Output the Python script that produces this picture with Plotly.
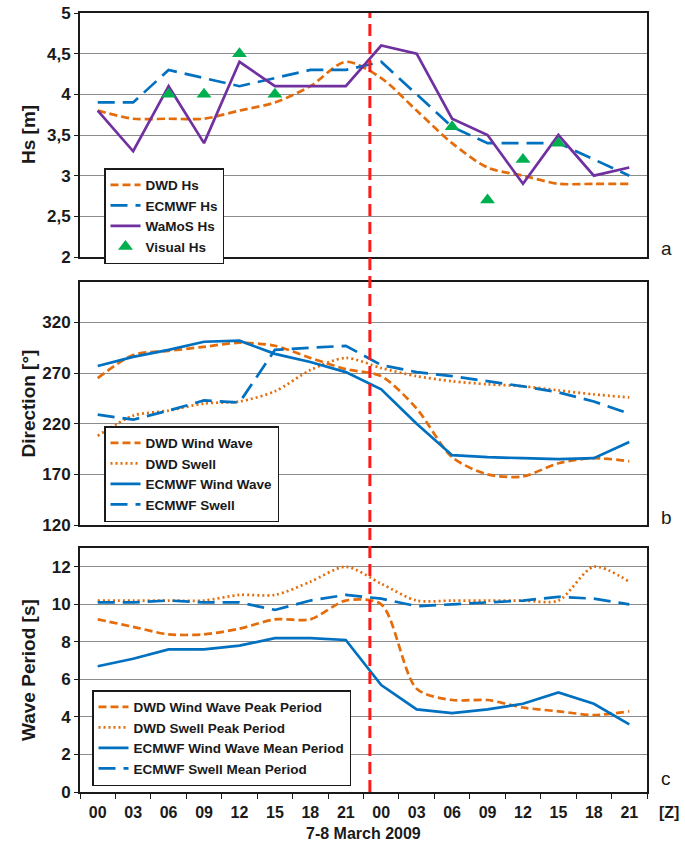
import plotly.graph_objects as go

# ---------------- data ----------------
hours = ["00", "03", "06", "09", "12", "15", "18", "21",
         "00", "03", "06", "09", "12", "15", "18", "21"]
xi = list(range(len(hours)))
event_index = 7.68  # time of event marker (~23Z, 7 March)

# Panel a: significant wave height [m]
dwd_hs = [3.8, 3.7, 3.7, 3.7, 3.8, 3.9, 4.1, 4.4, 4.2, 3.8, 3.4, 3.1, 3.0, 2.9, 2.9, 2.9]
ecmwf_hs = [3.9, 3.9, 4.3, 4.2, 4.1, 4.2, 4.3, 4.3, 4.4, 4.0, 3.6, 3.4, 3.4, 3.4, 3.2, 3.0]
wamos_hs = [3.8, 3.3, 4.1, 3.4, 4.4, 4.1, 4.1, 4.1, 4.6, 4.5, 3.7, 3.5, 2.9, 3.5, 3.0, 3.1]
visual_idx = [2, 3, 4, 5, 10, 11, 12, 13]
visual_hs = [4.0, 4.0, 4.5, 4.0, 3.6, 2.7, 3.2, 3.4]

# Panel b: direction [deg]
dwd_wind_dir = [265, 288, 292, 296, 300, 297, 285, 274, 267, 235, 187, 170, 168, 181, 186, 183]
dwd_swell_dir = [208, 228, 233, 240, 242, 252, 273, 285, 275, 267, 262, 259, 257, 253, 249, 246]
ecmwf_wind_dir = [277, 286, 293, 301, 302, 289, 281, 271, 254, 220, 189, 187, 186, 185, 186, 202]
ecmwf_swell_dir = [229, 224, 233, 243, 241, 293, 295, 297, 278, 271, 267, 262, 257, 251, 242, 230]

# Panel c: wave period [s]
dwd_wind_per = [9.2, 8.8, 8.4, 8.4, 8.7, 9.2, 9.2, 10.2, 10.0, 5.5, 4.9, 4.9, 4.5, 4.3, 4.1, 4.3]
dwd_swell_per = [10.2, 10.2, 10.2, 10.2, 10.5, 10.5, 11.2, 12.0, 11.1, 10.2, 10.2, 10.2, 10.2, 10.2, 12.0, 11.2]
ecmwf_wind_per = [6.7, 7.1, 7.6, 7.6, 7.8, 8.2, 8.2, 8.1, 5.7, 4.4, 4.2, 4.4, 4.7, 5.3, 4.7, 3.6]
ecmwf_swell_per = [10.1, 10.1, 10.2, 10.1, 10.1, 9.7, 10.2, 10.5, 10.3, 9.9, 10.0, 10.1, 10.2, 10.4, 10.3, 10.0]

hs_ticks = [2, 2.5, 3, 3.5, 4, 4.5, 5]
hs_ticktext = ["2", "2,5", "3", "3,5", "4", "4,5", "5"]
dir_ticks = [120, 170, 220, 270, 320]
per_ticks = [0, 2, 4, 6, 8, 10, 12]

# ---------------- style ----------------
ORANGE = "#E46C0A"
BLUE = "#0070C0"
PURPLE = "#7030A0"
GREEN = "#00B050"
FONT = "Liberation Sans, Arial, sans-serif"
INK = "#1a1a1a"
W = 2.7
DASH_MED = "8px,4px"
DASH_LONG = "17px,8px"
DASH_DOT = "2px,3px"

fig = go.Figure()

def line(y, name, color, dash, xa, ya, leg, spline=False):
    fig.add_trace(go.Scatter(
        x=xi, y=y, name=name, mode="lines",
        line=dict(color=color, width=W, dash=dash,
                  shape="spline" if spline else "linear", smoothing=0.8),
        xaxis=xa, yaxis=ya, legend=leg, hoverinfo="skip"))

# panel a
line(dwd_hs, "DWD Hs", ORANGE, DASH_MED, "x", "y", "legend", True)
line(ecmwf_hs, "ECMWF Hs", BLUE, DASH_LONG, "x", "y", "legend")
line(wamos_hs, "WaMoS Hs", PURPLE, "solid", "x", "y", "legend")
fig.add_trace(go.Scatter(
    x=visual_idx, y=visual_hs, name="Visual Hs", mode="markers",
    marker=dict(symbol="triangle-up", size=13, color=GREEN),
    xaxis="x", yaxis="y", legend="legend", hoverinfo="skip"))

# panel b
line(dwd_wind_dir, "DWD Wind Wave", ORANGE, DASH_MED, "x2", "y2", "legend2", True)
line(dwd_swell_dir, "DWD Swell", ORANGE, DASH_DOT, "x2", "y2", "legend2", True)
line(ecmwf_wind_dir, "ECMWF Wind Wave", BLUE, "solid", "x2", "y2", "legend2")
line(ecmwf_swell_dir, "ECMWF Swell", BLUE, DASH_LONG, "x2", "y2", "legend2")

# panel c
line(dwd_wind_per, "DWD Wind Wave Peak Period", ORANGE, DASH_MED, "x3", "y3", "legend3", True)
line(dwd_swell_per, "DWD Swell Peak Period", ORANGE, DASH_DOT, "x3", "y3", "legend3", True)
line(ecmwf_wind_per, "ECMWF Wind Wave Mean Period", BLUE, "solid", "x3", "y3", "legend3")
line(ecmwf_swell_per, "ECMWF Swell Mean Period", BLUE, DASH_LONG, "x3", "y3", "legend3")

# ---------------- layout ----------------
L, R, T, B = 80, 38, 13, 52
H, Wd = 844, 685
ph = H - T - B

def py(px):
    return (H - B - px) / ph

dom_a = [py(257), 1.0]
dom_b = [py(525), py(282)]
dom_c = [0.0, py(548)]

xcommon = dict(range=[-0.5, 15.5], showgrid=False, zeroline=False, automargin=False,
               showline=True, mirror=True, linecolor=INK, linewidth=2)
ycommon = dict(showgrid=True, gridcolor="#8c8c8c", gridwidth=1, zeroline=False,
               automargin=False,
               showline=True, mirror=True, linecolor=INK, linewidth=2,
               ticks="outside", ticklen=4, tickcolor=INK,
               tickfont=dict(family=FONT, size=17, color=INK, weight="bold"))

boundaries = [i - 0.5 for i in range(len(hours) + 1)]

fig.update_layout(
    width=Wd, height=H,
    margin=dict(l=L, r=R, t=T, b=B),
    paper_bgcolor="white", plot_bgcolor="white",
    font=dict(family=FONT, color=INK),
    xaxis=dict(**xcommon, domain=[0, 1], anchor="y", showticklabels=False),
    xaxis2=dict(**xcommon, domain=[0, 1], anchor="y2", showticklabels=False),
    xaxis3=dict(**xcommon, domain=[0, 1], anchor="y3",
                tickmode="array", tickvals=xi, ticktext=hours, ticks="",
                ticklabelstandoff=5,
                tickfont=dict(family=FONT, size=16, color=INK, weight="bold"),
                minor=dict(tickmode="array", tickvals=boundaries, ticks="outside",
                           ticklen=5, tickcolor=INK, showgrid=False)),
    yaxis=dict(**ycommon, domain=dom_a, anchor="x", range=[2, 5],
               tickmode="array", tickvals=hs_ticks, ticktext=hs_ticktext),
    yaxis2=dict(**ycommon, domain=dom_b, anchor="x2", range=[120, 360],
                tickmode="array", tickvals=dir_ticks),
    yaxis3=dict(**ycommon, domain=dom_c, anchor="x3", range=[0, 13],
                tickmode="array", tickvals=per_ticks),
    showlegend=True,
)

def px2x(px):
    return (px - L) / (Wd - L - R)

legcommon = dict(bgcolor="white", bordercolor=INK, borderwidth=1.5,
                 xanchor="left", yanchor="middle", tracegroupgap=0,
                 font=dict(family=FONT, size=13.5, color=INK, weight="bold"))
fig.update_layout(
    legend=dict(**legcommon, x=px2x(104), y=py(216)),
    legend2=dict(**legcommon, x=px2x(104), y=py(474)),
    legend3=dict(**legcommon, x=px2x(92), y=py(738)),
)

# event marker (vertical red dashed line through all panels)
fig.add_shape(type="line", xref="x3", yref="paper", x0=event_index, x1=event_index,
              y0=0, y1=1, line=dict(color="#FF1A1A", width=3, dash="12px,6px"), layer="above")

ann_font = dict(family=FONT, size=19, color=INK, weight="bold")
for txt, dom in [("Hs [m]", dom_a), ("Direction [°]", dom_b), ("Wave Period [s]", dom_c)]:
    fig.add_annotation(text=txt, xref="paper", yref="paper", x=px2x(28),
                       y=(dom[0] + dom[1]) / 2, textangle=-90, showarrow=False,
                       xanchor="center", yanchor="middle", font=ann_font)

for txt, ypx in [("a", 248), ("b", 517), ("c", 778)]:
    fig.add_annotation(text=txt, xref="paper", yref="paper", x=px2x(666), y=py(ypx),
                       showarrow=False, xanchor="center", yanchor="middle",
                       font=dict(family=FONT, size=19, color=INK))

fig.add_annotation(text="[Z]", xref="paper", yref="paper", x=px2x(669), y=py(812),
                   showarrow=False, xanchor="center", yanchor="middle",
                   font=dict(family=FONT, size=16, color=INK, weight="bold"))

fig.add_annotation(text="7-8 March 2009", xref="paper", yref="paper", x=0.5, y=py(834),
                   showarrow=False, xanchor="center", yanchor="middle",
                   font=dict(family=FONT, size=16, color=INK, weight="bold"))

fig.write_html("out.html")
